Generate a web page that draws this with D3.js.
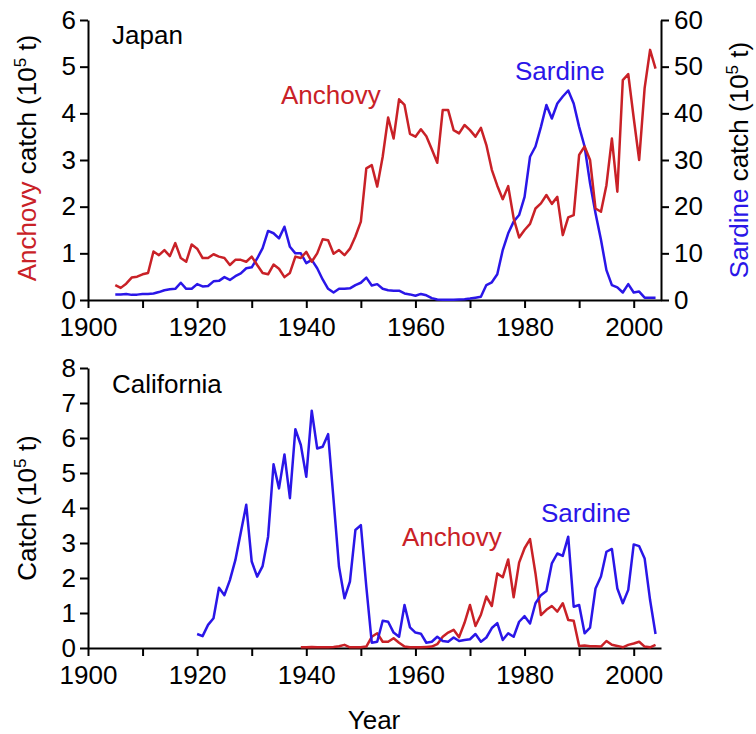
<!DOCTYPE html>
<html>
<head>
<meta charset="utf-8">
<script src="https://cdn.jsdelivr.net/npm/d3@7"></script>
<style>
  body { margin: 0; background: #fff; }
  svg { display: block; font-family: "Liberation Sans", Arial, sans-serif; }
  .axis path, .axis line { stroke: #000; stroke-width: 2; }
  .axis text { font-size: 26px; fill: #000; font-family: "Liberation Sans", Arial, sans-serif; }
</style>
</head>
<body>
<div id="chart"></div>
<script>
var RED = "#c92127",
    BLUE = "#2a16e8";

// Japan, 1905-2004 (anchovy in 10^5 t, sardine on right axis)
var jpStart = 1905;
var jpAnchovy = [0.32, 0.26, 0.35, 0.48, 0.50, 0.55, 0.58, 1.04, 0.96, 1.07,
  0.94, 1.22, 0.90, 0.82, 1.19, 1.10, 0.90, 0.90, 0.98, 0.93,
  0.90, 0.75, 0.86, 0.86, 0.82, 0.93, 0.75, 0.58, 0.55, 0.76,
  0.67, 0.49, 0.58, 0.93, 0.90, 1.03, 0.82, 1.00, 1.30, 1.28,
  0.99, 1.07, 0.96, 1.10, 1.36, 1.68, 2.82, 2.89, 2.43, 3.07,
  3.91, 3.46, 4.30, 4.18, 3.56, 3.50, 3.66, 3.51, 3.23, 2.94,
  4.07, 4.07, 3.64, 3.57, 3.75, 3.64, 3.50, 3.69, 3.32, 2.79,
  2.45, 2.16, 2.44, 1.75, 1.34, 1.50, 1.63, 1.96, 2.07, 2.25,
  2.06, 2.21, 1.39, 1.77, 1.82, 3.11, 3.29, 3.00, 1.96, 1.89,
  2.46, 3.46, 2.32, 4.71, 4.84, 3.90, 3.00, 4.54, 5.36, 4.96];
var jpSardine = [1.2, 1.2, 1.3, 1.1, 1.15, 1.3, 1.3, 1.4, 1.7, 2.1,
  2.3, 2.4, 3.7, 2.4, 2.4, 3.4, 2.9, 3.0, 4.0, 4.1,
  4.9, 4.3, 5.1, 5.7, 6.8, 7.0, 8.9, 11.1, 14.8, 14.3,
  13.2, 15.7, 11.4, 10.0, 10.0, 7.9, 8.6, 6.8, 4.4, 2.4,
  1.6, 2.4, 2.4, 2.5, 3.2, 3.7, 4.8, 3.1, 3.4, 2.4,
  2.1, 2.0, 2.0, 1.4, 1.2, 0.9, 1.3, 1.0, 0.4, 0.1,
  0.05, 0.05, 0.05, 0.1, 0.15, 0.3, 0.5, 0.7, 3.2, 3.8,
  5.5, 10.7, 14.3, 16.8, 18.2, 22.1, 30.7, 32.9, 37.1, 41.8,
  38.9, 42.1, 43.6, 44.9, 42.1, 37.1, 32.9, 25.0, 18.6, 12.9,
  6.4, 3.2, 2.7, 1.6, 3.4, 1.6, 1.8, 0.5, 0.5, 0.5];

// California (10^5 t)
var caSardineStart = 1920;
var caSardine = [0.40, 0.34, 0.66, 0.85, 1.72, 1.51, 1.94, 2.51, 3.30, 4.09,
  2.47, 2.04, 2.34, 3.18, 5.25, 4.56, 5.53, 4.28, 6.25, 5.80,
  4.89, 6.78, 5.70, 5.75, 6.11, 4.23, 2.32, 1.42, 1.90, 3.37,
  3.51, 1.75, 0.15, 0.18, 0.78, 0.75, 0.44, 0.32, 1.23, 0.59,
  0.44, 0.41, 0.15, 0.18, 0.32, 0.20, 0.18, 0.30, 0.20, 0.23,
  0.25, 0.40, 0.18, 0.30, 0.57, 0.71, 0.23, 0.42, 0.32, 0.75,
  0.91, 0.70, 1.28, 1.51, 1.63, 2.42, 2.70, 2.63, 3.18, 1.18,
  1.23, 0.42, 0.58, 1.70, 2.04, 2.75, 2.83, 1.70, 1.28, 1.66,
  2.96, 2.91, 2.56, 1.37, 0.40];
var caAnchovyStart = 1939;
var caAnchovy = [0.02, 0.02, 0.03, 0.02, 0.02, 0.02, 0.03, 0.05, 0.09, 0.02,
  0.02, 0.02, 0.04, 0.32, 0.42, 0.18, 0.18, 0.28, 0.15, 0.04,
  0.02, 0.02, 0.02, 0.03, 0.04, 0.11, 0.32, 0.44, 0.52, 0.31,
  0.72, 1.23, 0.63, 0.95, 1.47, 1.20, 2.13, 2.02, 2.53, 1.45,
  2.44, 2.85, 3.11, 2.13, 0.94, 1.09, 1.20, 1.04, 1.28, 0.80,
  0.78, 0.06, 0.07, 0.05, 0.05, 0.04, 0.20, 0.09, 0.06, 0.02,
  0.09, 0.13, 0.18, 0.04, 0.02, 0.09];

var xTicks = [1900, 1910, 1920, 1930, 1940, 1950, 1960, 1970, 1980, 1990, 2000];
var jpLeftTicks = [0, 1, 2, 3, 4, 5, 6];
var jpRightTicks = [0, 10, 20, 30, 40, 50, 60];
var caTicks = [0, 1, 2, 3, 4, 5, 6, 7, 8];

function toPoints(start, values) {
  return values.map(function(v, i) { return {year: start + i, value: v}; });
}

var intFmt = d3.format("d");

var svg = d3.select("#chart").append("svg")
    .attr("width", 756)
    .attr("height", 734);

var x = d3.scaleLinear().domain([1900, 2005]).range([88, 661]);

var xAxis = d3.axisBottom(x)
    .tickValues(xTicks)
    .tickSize(8).tickSizeOuter(0).tickPadding(10)
    .tickFormat(function(d) { return d % 20 === 0 ? d : ""; });

//// Japan panel
var yJL = d3.scaleLinear().domain([0, 6]).range([300, 20]);
var yJR = d3.scaleLinear().domain([0, 60]).range([300, 20]);

svg.append("g").attr("class", "axis")
    .attr("transform", "translate(0,300)")
    .call(xAxis);
svg.append("g").attr("class", "axis")
    .attr("transform", "translate(88,0)")
    .call(d3.axisLeft(yJL).tickValues(jpLeftTicks).tickFormat(intFmt)
      .tickSize(8).tickSizeOuter(0).tickPadding(4));
svg.append("g").attr("class", "axis")
    .attr("transform", "translate(661,0)")
    .call(d3.axisRight(yJR).tickValues(jpRightTicks).tickFormat(intFmt)
      .tickSize(8).tickSizeOuter(0).tickPadding(5));

var lineJL = d3.line().x(function(d) { return x(d.year); }).y(function(d) { return yJL(d.value); });
var lineJR = d3.line().x(function(d) { return x(d.year); }).y(function(d) { return yJR(d.value); });

svg.append("path")
    .attr("d", lineJR(toPoints(jpStart, jpSardine)))
    .attr("fill", "none").attr("stroke", BLUE)
    .attr("stroke-width", 2.5).attr("stroke-linejoin", "round");
svg.append("path")
    .attr("d", lineJL(toPoints(jpStart, jpAnchovy)))
    .attr("fill", "none").attr("stroke", RED)
    .attr("stroke-width", 2.5).attr("stroke-linejoin", "round");

//// California panel
var yC = d3.scaleLinear().domain([0, 8]).range([648, 368]);

svg.append("g").attr("class", "axis")
    .attr("transform", "translate(0,648)")
    .call(xAxis);
svg.append("g").attr("class", "axis")
    .attr("transform", "translate(88,0)")
    .call(d3.axisLeft(yC).tickValues(caTicks).tickFormat(intFmt)
      .tickSize(8).tickSizeOuter(0).tickPadding(4));

var lineC = d3.line().x(function(d) { return x(d.year); }).y(function(d) { return yC(d.value); });

svg.append("path")
    .attr("d", lineC(toPoints(caAnchovyStart, caAnchovy)))
    .attr("fill", "none").attr("stroke", RED)
    .attr("stroke-width", 2.5).attr("stroke-linejoin", "round");
svg.append("path")
    .attr("d", lineC(toPoints(caSardineStart, caSardine)))
    .attr("fill", "none").attr("stroke", BLUE)
    .attr("stroke-width", 2.5).attr("stroke-linejoin", "round");

//// Labels
function label(txt, px, py, color) {
  svg.append("text")
      .attr("x", px).attr("y", py)
      .style("font-size", "26px")
      .style("fill", color)
      .text(txt);
}
label("Japan", 112, 44, "#000");
label("Anchovy", 281, 104, RED);
label("Sardine", 515, 80, BLUE);
label("California", 112, 393, "#000");
label("Anchovy", 402, 546, RED);
label("Sardine", 541, 522, BLUE);

svg.append("text")
    .attr("x", 374).attr("y", 729)
    .attr("text-anchor", "middle")
    .style("font-size", "26px")
    .text("Year");

// rotated axis titles with a coloured first word and 10^5 superscript
function yTitle(px, py, first, firstColor, rest) {
  var t = svg.append("text")
      .attr("transform", "translate(" + px + "," + py + ") rotate(-90)")
      .attr("text-anchor", "middle")
      .style("font-size", "26px");
  if (first) t.append("tspan").style("fill", firstColor).text(first);
  t.append("tspan").text(rest + "(10");
  t.append("tspan").attr("dy", -10).style("font-size", "17px").text("5");
  t.append("tspan").attr("dy", 10).text(" t)");
}
yTitle(36, 158, "Anchovy", RED, " catch ");
yTitle(748, 160, "Sardine", BLUE, " catch ");
yTitle(36, 508, "", "#000", "Catch ");
</script>
</body>
</html>
